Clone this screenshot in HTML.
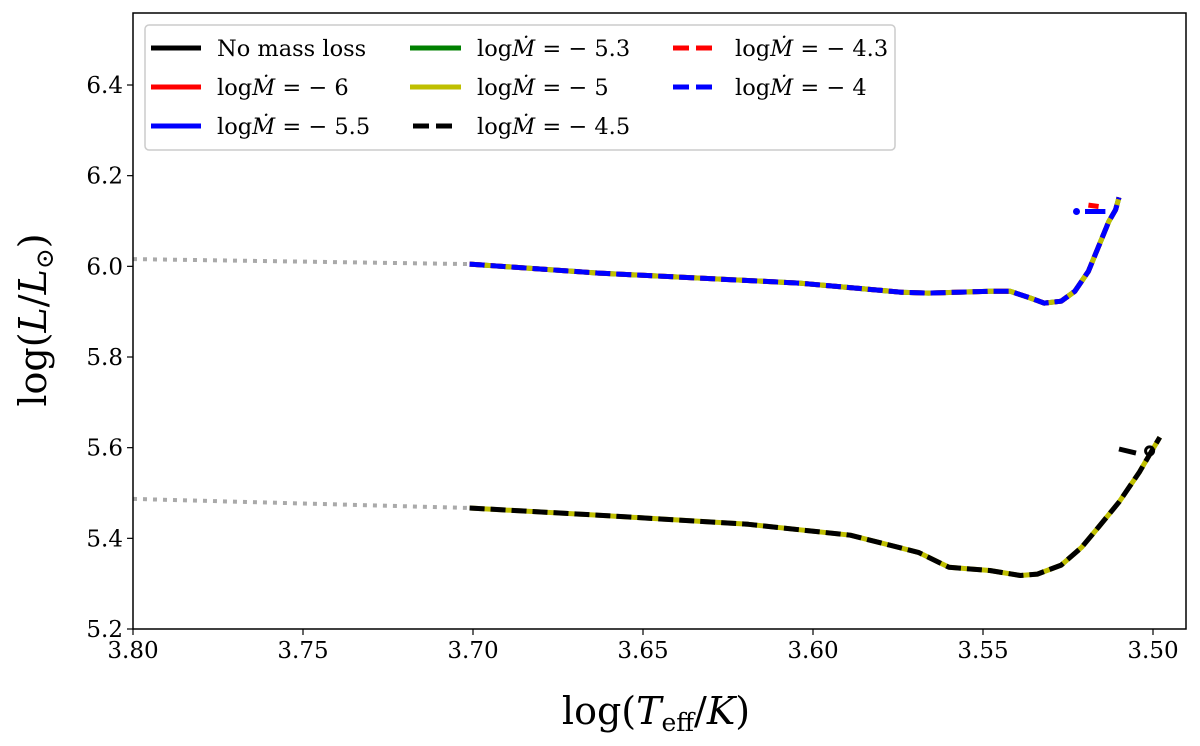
<!DOCTYPE html>
<html><head><meta charset="utf-8"><style>
body{margin:0;background:#fff;}
svg{display:block;font-family:"DejaVu Serif","Liberation Serif",serif;}
</style></head><body>
<svg id="c" width="1200" height="746"></svg>
<script>
const xTicks=[3.80,3.75,3.70,3.65,3.60,3.55,3.50];
const yTicks=[5.2,5.4,5.6,5.8,6.0,6.2,6.4];
const upperTeff=[3.701,3.663,3.604,3.574,3.566,3.548,3.542,3.536,3.532,3.527,3.523,3.519,3.516,3.513,3.511,3.510];
const upperL=[6.005,5.985,5.963,5.943,5.941,5.945,5.945,5.930,5.919,5.923,5.945,5.989,6.044,6.099,6.125,6.152];
const upperExtTeff=[3.80,3.701];
const upperExtL=[6.016,6.005];
const lowerTeff=[3.701,3.663,3.619,3.589,3.569,3.560,3.548,3.539,3.534,3.527,3.521,3.516,3.510,3.504,3.498];
const lowerL=[5.467,5.451,5.431,5.407,5.369,5.336,5.329,5.318,5.321,5.341,5.380,5.425,5.480,5.546,5.623];
const lowerExtTeff=[3.80,3.701];
const lowerExtL=[5.487,5.467];
const hookBlueTeff=[3.520,3.514];const hookBlueL=[6.121,6.121];
const hookRedTeff=[3.519,3.516];const hookRedL=[6.135,6.132];
const hookBlackTeff=[3.510,3.505];const hookBlackL=[5.597,5.588];

const X0=133,X1=1186,Y0=13,Y1=629;
function sx(v){return 133+(3.80-v)*3400;}
function sy(v){return 629-(v-5.2)*453.33;}
const NS="http://www.w3.org/2000/svg";
const svg=document.getElementById('c');
function el(t,a,p){const e=document.createElementNS(NS,t);for(const k in a)e.setAttribute(k,a[k]);(p||svg).appendChild(e);return e;}
function pts(xs,ys){return xs.map((x,i)=>sx(x).toFixed(1)+','+sy(ys[i]).toFixed(1)).join(' ');}
const g=el('g',{'clip-path':'url(#clip)'});
const cp=el('clipPath',{id:'clip'});el('rect',{x:X0,y:Y0,width:X1-X0,height:Y1-Y0},cp);
function line(xs,ys,color,w,dash,name){
  const p=el('polyline',{points:pts(xs,ys),fill:'none',stroke:color,'stroke-width':w,'stroke-dasharray':dash||'none','stroke-linejoin':'round'},g);
  
  
}
line(upperExtTeff,upperExtL,'#aaa',4,'4,6','upper-extension-dotted');
line(lowerExtTeff,lowerExtL,'#aaa',4,'4,6','lower-extension-dotted');
line(upperTeff,upperL,'green',5,null,'upper-track-m53');
line(upperTeff,upperL,'#bfbf00',5,null,'upper-track-m5');
line(upperTeff,upperL,'red',5,'15,6','upper-track-m43');
line(upperTeff,upperL,'blue',5,'15,6','upper-track-m4');
line(hookRedTeff,hookRedL,'red',5,null,'upper-hook-red');
line(hookBlueTeff,hookBlueL,'blue',5,null,'upper-hook-blue');
const dot=el('circle',{cx:sx(3.5225),cy:sy(6.121),r:3.5,fill:'blue'},g);


line(lowerTeff,lowerL,'#bfbf00',5,null,'lower-track-m5');
line(lowerTeff,lowerL,'black',5,'15,6','lower-track-m45');
line(hookBlackTeff,hookBlackL,'black',5,null,'lower-hook-black');
const c2=el('circle',{cx:sx(3.501),cy:sy(5.593),r:4,fill:'none',stroke:'black','stroke-width':3},g);


const fr=el('rect',{x:X0,y:Y0,width:X1-X0,height:Y1-Y0,fill:'none',stroke:'#000','stroke-width':1.5});


xTicks.forEach(v=>{
  el('line',{x1:sx(v),x2:sx(v),y1:Y1,y2:Y1+6,stroke:'#000','stroke-width':1.2});
  const t=el('text',{x:sx(v),y:Y1+29,'font-size':23,'text-anchor':'middle'});t.textContent=v.toFixed(2);
  
  
});
yTicks.forEach(v=>{
  el('line',{x1:X0-6,x2:X0,y1:sy(v),y2:sy(v),stroke:'#000','stroke-width':1.2});
  const t=el('text',{x:X0-10,y:sy(v)+8,'font-size':23,'text-anchor':'end'});t.textContent=v.toFixed(1);
  
  
});
</script>
<svg width="1200" height="746" style="position:absolute;left:0;top:0;font-family:'DejaVu Serif','Liberation Serif',serif">
<text x="656" y="724" font-size="38" text-anchor="middle">log(<tspan font-style="italic">T</tspan><tspan font-size="25" dy="7">eff</tspan><tspan dy="-7">/</tspan><tspan font-style="italic">K</tspan>)</text>
<text transform="translate(46,320) rotate(-90)" font-size="38" text-anchor="middle">log(<tspan font-style="italic">L</tspan>/<tspan font-style="italic">L</tspan><tspan font-size="25" dy="7">⊙</tspan><tspan dy="-7">)</tspan></text>
<g>
<rect x="145" y="25" width="750" height="125" rx="4" fill="#fff" stroke="#ccc" stroke-width="1.5"/>
<g font-size="22.5">
<line x1="151" x2="201" y1="48" y2="48" stroke="#000" stroke-width="5"/><text x="217" y="56">No mass loss</text>
<line x1="151" x2="201" y1="87" y2="87" stroke="red" stroke-width="5"/><text x="217" y="95">log<tspan font-style="italic">Ṁ</tspan> = − 6</text>
<line x1="151" x2="201" y1="126" y2="126" stroke="blue" stroke-width="5"/><text x="217" y="134">log<tspan font-style="italic">Ṁ</tspan> = − 5.5</text>
<line x1="410" x2="461" y1="48" y2="48" stroke="green" stroke-width="5"/><text x="477" y="56">log<tspan font-style="italic">Ṁ</tspan> = − 5.3</text>
<line x1="410" x2="461" y1="87" y2="87" stroke="#bfbf00" stroke-width="5"/><text x="477" y="95">log<tspan font-style="italic">Ṁ</tspan> = − 5</text>
<line x1="413" x2="459" y1="126" y2="126" stroke="#000" stroke-width="5" stroke-dasharray="16,7"/><text x="477" y="134">log<tspan font-style="italic">Ṁ</tspan> = − 4.5</text>
<line x1="673" x2="719" y1="48" y2="48" stroke="red" stroke-width="5" stroke-dasharray="16,7"/><text x="735" y="56">log<tspan font-style="italic">Ṁ</tspan> = − 4.3</text>
<line x1="673" x2="719" y1="87" y2="87" stroke="blue" stroke-width="5" stroke-dasharray="16,7"/><text x="735" y="95">log<tspan font-style="italic">Ṁ</tspan> = − 4</text>
</g></g>
</svg>
</body></html>
